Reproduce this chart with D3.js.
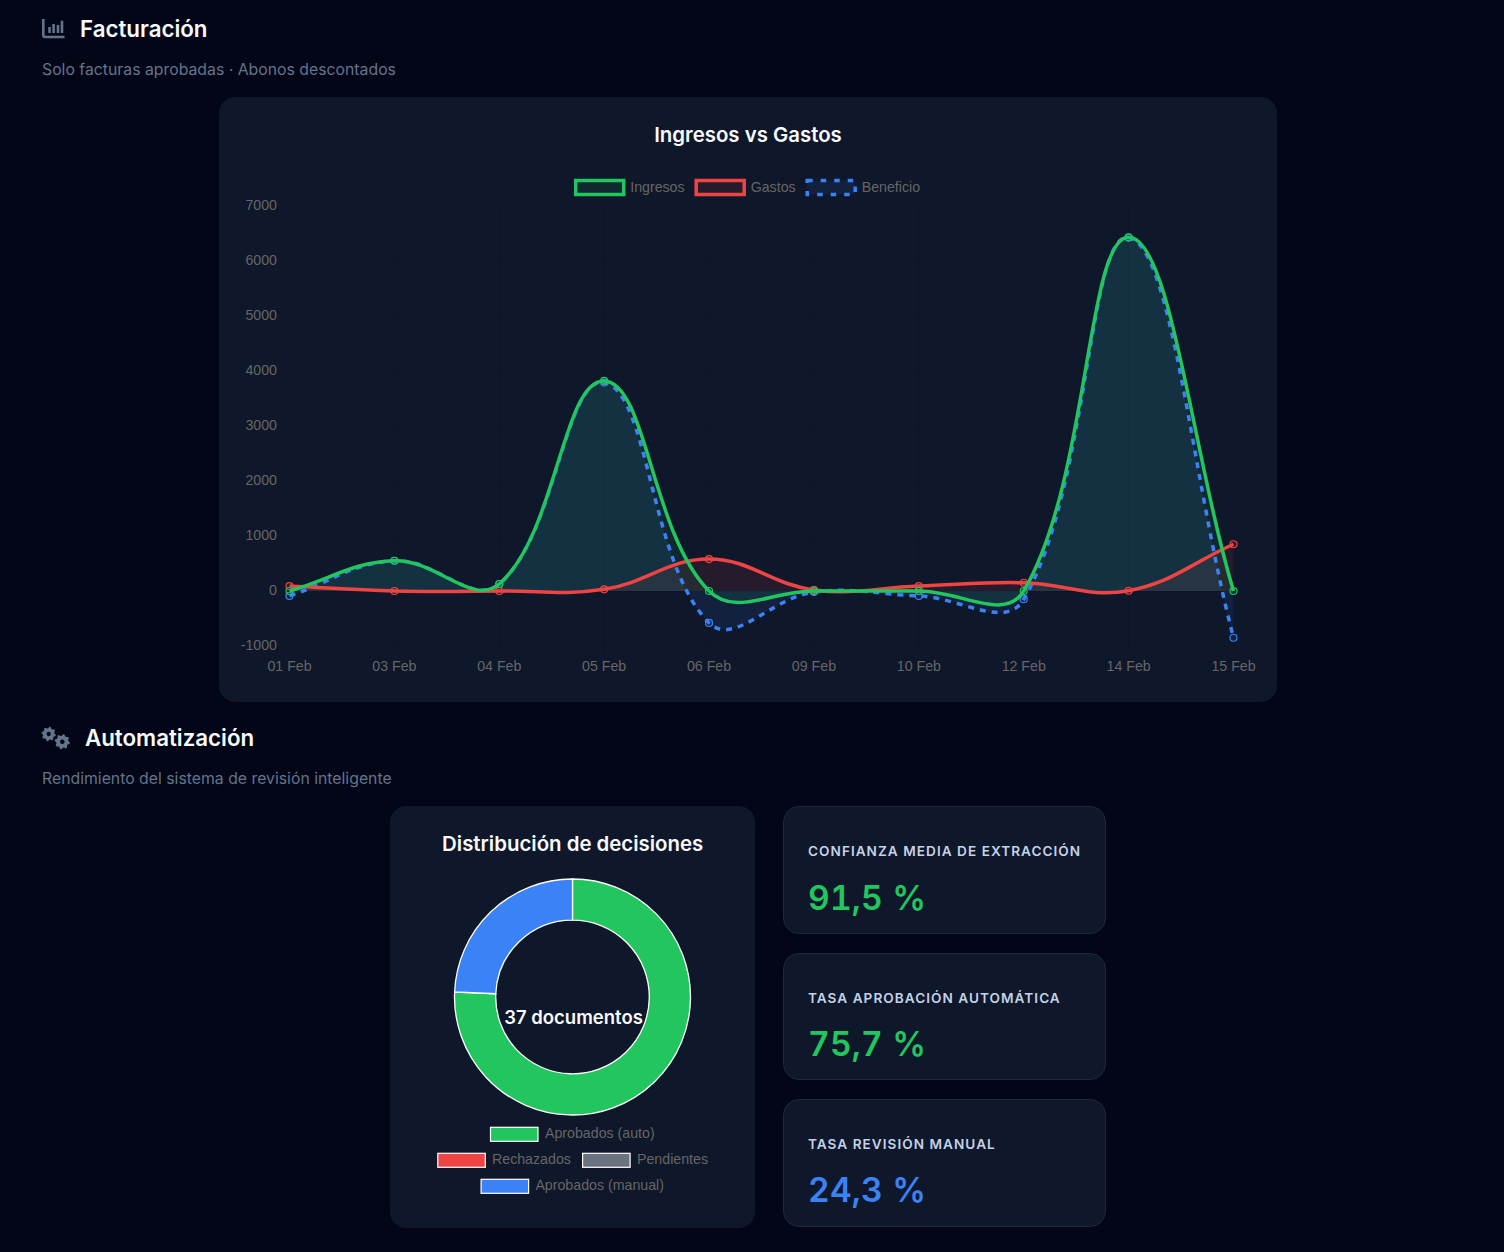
<!DOCTYPE html>
<html lang="es">
<head>
<meta charset="utf-8">
<title>Facturación y automatización</title>
<script src="https://cdn.jsdelivr.net/npm/d3@7/dist/d3.min.js"></script>
<style>
  html, body { margin: 0; padding: 0; background: #020617; }
  body { width: 1504px; height: 1252px; overflow: hidden; position: relative; font-family: Inter, sans-serif; }
  .abs { position: absolute; white-space: nowrap; }
  .heading { color: #f8fafc; font-size: 22.3px; font-weight: 600; line-height: 30px; }
  .sub { color: #64748b; font-size: 15.8px; line-height: 20px; }
  .card { position: absolute; background: #0f172a; border-radius: 16px; box-sizing: border-box; }
  .stat { border: 1px solid #1e293b; }
  .stat-label { color: #c4d2e8; font-size: 13.6px; font-weight: 600; letter-spacing: 1.03px; line-height: 18px; }
  .stat-value { font-size: 33.6px; font-weight: 600; line-height: 44px; font-variant-numeric: tabular-nums; letter-spacing: 0.2px; }
  svg { position: absolute; left: 0; top: 0; }
  .chart-text { font-family: "Liberation Sans", Arial, sans-serif; font-size: 14.2px; fill: #666; }
  .chart-title { font-family: Inter, sans-serif; font-weight: 600; fill: #f8fafc; font-size: 20.4px; }
</style>
</head>
<body>
<script>
// Daily billing figures
const days = ["01 Feb", "03 Feb", "04 Feb", "05 Feb", "06 Feb", "09 Feb", "10 Feb", "12 Feb", "14 Feb", "15 Feb"];
const ingresos = [0, 550, 127, 3820, 0, 0, 0, 0, 6430, 0];
const gastos = [90, 0, 0, 30, 580, 20, 90, 150, 5, 850];
const beneficio = [-90, 550, 127, 3790, -580, -20, -90, -150, 6425, -850];
const yTicks = [7000, 6000, 5000, 4000, 3000, 2000, 1000, 0, -1000];

// Review decisions
const decisionLabels = ["Aprobados (auto)", "Rechazados", "Pendientes", "Aprobados (manual)"];
const decisionCounts = [28, 0, 0, 9];
const decisionColors = ["#22c55e", "#ef4444", "#6b7280", "#3b82f6"];

// Key indicators
const statLabels = ["CONFIANZA MEDIA DE EXTRACCIÓN", "TASA APROBACIÓN AUTOMÁTICA", "TASA REVISIÓN MANUAL"];
const statValues = ["91,5 %", "75,7 %", "24,3 %"];
const statColors = ["#22c55e", "#22c55e", "#3b82f6"];

const body = d3.select("body");

function box(x, y, w, h, cls) {
  return body.append("div").attr("class", "card " + (cls || ""))
    .style("left", x + "px").style("top", y + "px")
    .style("width", w + "px").style("height", h + "px");
}
function label(x, y, cls, text) {
  return body.append("div").attr("class", "abs " + cls)
    .style("left", x + "px").style("top", y + "px").text(text);
}

// Page sections and cards
label(80, 14, "heading", "Facturación");
label(42, 60, "sub", "Solo facturas aprobadas · Abonos descontados");
box(219, 97, 1058, 605);
label(85, 723, "heading", "Automatización");
label(42, 769, "sub", "Rendimiento del sistema de revisión inteligente");
box(390, 806, 365, 422);

const statTops = [806, 953, 1099];
const statHeights = [128, 127, 128];
const statValueTops = [876, 1022, 1168];
statLabels.forEach((t, i) => {
  box(783, statTops[i], 323, statHeights[i], "stat");
  label(808, statTops[i] + 35.5, "stat-label", t);
  label(808, statValueTops[i], "stat-value", statValues[i]).style("color", statColors[i]);
});

const svg = body.append("svg").attr("width", 1504).attr("height", 1252);

// Section icons
const iconColor = "#64748b";
const barIcon = svg.append("g").attr("fill", "none").attr("stroke", iconColor);
barIcon.append("path").attr("stroke-width", 2.6).attr("d", "M43.3 19V35a2 2 0 0 0 2 2H64.5");
[[49.5, 27], [53.6, 24], [58, 25], [62, 20.7]].forEach(([bx, top]) =>
  barIcon.append("path").attr("stroke-width", 2.6).attr("d", `M${bx} ${top}V33`));

function gearPath(r) {
  const teeth = 8, ctx = d3.path();
  for (let i = 0; i < teeth * 4; i++) {
    const a = (i + 0.5) / (teeth * 4) * 2 * Math.PI;
    const rad = (i % 4 < 2) ? r : r * 0.8;
    if (i === 0) ctx.moveTo(rad * Math.cos(a), rad * Math.sin(a));
    else ctx.lineTo(rad * Math.cos(a), rad * Math.sin(a));
  }
  ctx.closePath();
  ctx.moveTo(r * 0.3, 0);
  ctx.arc(0, 0, r * 0.3, 0, 2 * Math.PI);
  return ctx.toString();
}
[[48.7, 734, 7.2], [62.3, 741.7, 7.6]].forEach(([gx, gy, r]) =>
  svg.append("path").attr("transform", `translate(${gx},${gy})`)
    .attr("fill", iconColor).attr("fill-rule", "evenodd").attr("d", gearPath(r)));

// Ingresos vs Gastos
svg.append("text").attr("class", "chart-title").attr("x", 748).attr("y", 141.5)
  .attr("text-anchor", "middle").text("Ingresos vs Gastos");

const x = d3.scalePoint().domain(days).range([289.5, 1233.5]);
const y = d3.scaleLinear().domain([-1000, 7000]).range([646, 206]);

// Cubic spline with tension 0.4, control points weighted by neighbour distance
function tensionCurve(context) {
  const pts = [];
  let seg = NaN;
  return {
    areaStart() { seg = 0; },
    areaEnd() { seg = NaN; },
    lineStart() { pts.length = 0; },
    point(px, py) { pts.push([+px, +py]); },
    lineEnd() {
      const t = 0.4, n = pts.length;
      const ctrl = pts.map((p, i) => {
        const a = pts[Math.max(i - 1, 0)], b = pts[Math.min(i + 1, n - 1)];
        const d01 = Math.hypot(p[0] - a[0], p[1] - a[1]);
        const d12 = Math.hypot(b[0] - p[0], b[1] - p[1]);
        const total = (d01 + d12) || 1;
        const fa = t * d01 / total, fb = t * d12 / total;
        return {
          prev: [p[0] - fa * (b[0] - a[0]), p[1] - fa * (b[1] - a[1])],
          next: [p[0] + fb * (b[0] - a[0]), p[1] + fb * (b[1] - a[1])]
        };
      });
      if (seg) context.lineTo(pts[0][0], pts[0][1]);
      else context.moveTo(pts[0][0], pts[0][1]);
      for (let i = 1; i < n; i++) {
        context.bezierCurveTo(ctrl[i - 1].next[0], ctrl[i - 1].next[1],
          ctrl[i].prev[0], ctrl[i].prev[1], pts[i][0], pts[i][1]);
      }
      if (seg) context.closePath();
      seg = 1 - seg;
    }
  };
}

// Grid
const grid = svg.append("g").attr("stroke", "rgba(0,0,0,0.08)").attr("stroke-width", 1);
grid.selectAll("line.h").data(yTicks).join("line")
  .attr("x1", 281.5).attr("x2", 1233.5)
  .attr("y1", d => Math.round(y(d)) + 0.5).attr("y2", d => Math.round(y(d)) + 0.5);
grid.selectAll("line.v").data(days).join("line")
  .attr("x1", d => x(d)).attr("x2", d => x(d))
  .attr("y1", 206).attr("y2", 654);

// Axis labels come from d3 axes with their lines removed
const yAxis = svg.append("g").attr("transform", "translate(277,0)")
  .call(d3.axisLeft(y).tickValues(yTicks).tickSize(0).tickPadding(0).tickFormat(d => String(d)));
const xAxis = svg.append("g").attr("transform", "translate(-0.5,654)")
  .call(d3.axisBottom(x).tickSize(0).tickPadding(7));
[yAxis, xAxis].forEach(a => {
  a.select(".domain").remove();
  a.attr("font-family", null).attr("font-size", null);
  a.selectAll("text").attr("class", "chart-text");
});
yAxis.selectAll("text").attr("dy", "0.32em").attr("y", -1);

const series = [
  { name: "Ingresos", values: ingresos, color: "#22c55e", fill: "rgba(34,197,94,0.1)", dash: null, legendDash: null },
  { name: "Gastos", values: gastos, color: "#ef4444", fill: "rgba(239,68,68,0.1)", dash: null, legendDash: null },
  { name: "Beneficio", values: beneficio, color: "#3b82f6", fill: "rgba(59,130,246,0.1)", dash: "6 6", legendDash: "5.5 8" }
];

const lineGen = d3.line().x((d, i) => x(days[i])).y(d => y(d)).curve(tensionCurve);
const areaGen = d3.area().x((d, i) => x(days[i])).y0(y(0)).y1(d => y(d)).curve(tensionCurve);

// First series ends up on top, so paint in reverse order
const reversed = series.slice().reverse();
svg.append("g").selectAll("path").data(reversed).join("path")
  .attr("d", d => areaGen(d.values)).attr("fill", d => d.fill);
reversed.forEach(s => {
  const g = svg.append("g");
  g.append("path").attr("d", lineGen(s.values)).attr("fill", "none")
    .attr("stroke", s.color).attr("stroke-width", 3.5).attr("stroke-dasharray", s.dash);
  g.selectAll("circle").data(s.values).join("circle")
    .attr("cx", (d, i) => x(days[i])).attr("cy", d => y(d)).attr("r", 3.5)
    .attr("fill", s.fill).attr("stroke", s.color).attr("stroke-width", 1.2);
});

// Line chart legend
const legendX = [575.7, 696.2, 807.2];
series.forEach((s, i) => {
  svg.append("rect").attr("x", legendX[i]).attr("y", 180.5).attr("width", 48).attr("height", 14)
    .attr("fill", s.fill).attr("stroke", s.color).attr("stroke-width", 3.5)
    .attr("stroke-dasharray", s.legendDash);
  svg.append("text").attr("class", "chart-text").attr("x", legendX[i] + 54.5).attr("y", 192).text(s.name);
});

// Decisions doughnut
svg.append("text").attr("class", "chart-title").attr("x", 572.7).attr("y", 851)
  .attr("text-anchor", "middle").text("Distribución de decisiones");

const pie = d3.pie().sort(null)(decisionCounts);
const arc = d3.arc().innerRadius(76.8).outerRadius(118);
const donut = svg.append("g").attr("transform", "translate(572.5,997)");
donut.selectAll("path").data(pie.filter(d => d.value > 0)).join("path")
  .attr("d", arc).attr("fill", d => decisionColors[d.index])
  .attr("stroke", "#fff").attr("stroke-width", 1.3);
svg.append("text").attr("x", 573.5).attr("y", 1024)
  .attr("text-anchor", "middle").attr("font-family", "Inter, sans-serif")
  .attr("font-size", 18.5).attr("font-weight", 600).attr("fill", "#f8fafc").text("37 documentos");

const legendRows = [
  { i: 0, bx: 490.5, y: 1127.3, tx: 545 },
  { i: 1, bx: 437.8, y: 1153.3, tx: 492 },
  { i: 2, bx: 582.6, y: 1153.3, tx: 637 },
  { i: 3, bx: 481.1, y: 1179.3, tx: 535.4 }
];
legendRows.forEach(r => {
  svg.append("rect").attr("x", r.bx).attr("y", r.y).attr("width", 47.5).attr("height", 14)
    .attr("fill", decisionColors[r.i]).attr("stroke", "#fff").attr("stroke-width", 1.2);
  svg.append("text").attr("class", "chart-text").attr("x", r.tx).attr("y", r.y + 10.2)
    .text(decisionLabels[r.i]);
});
</script>
</body>
</html>
